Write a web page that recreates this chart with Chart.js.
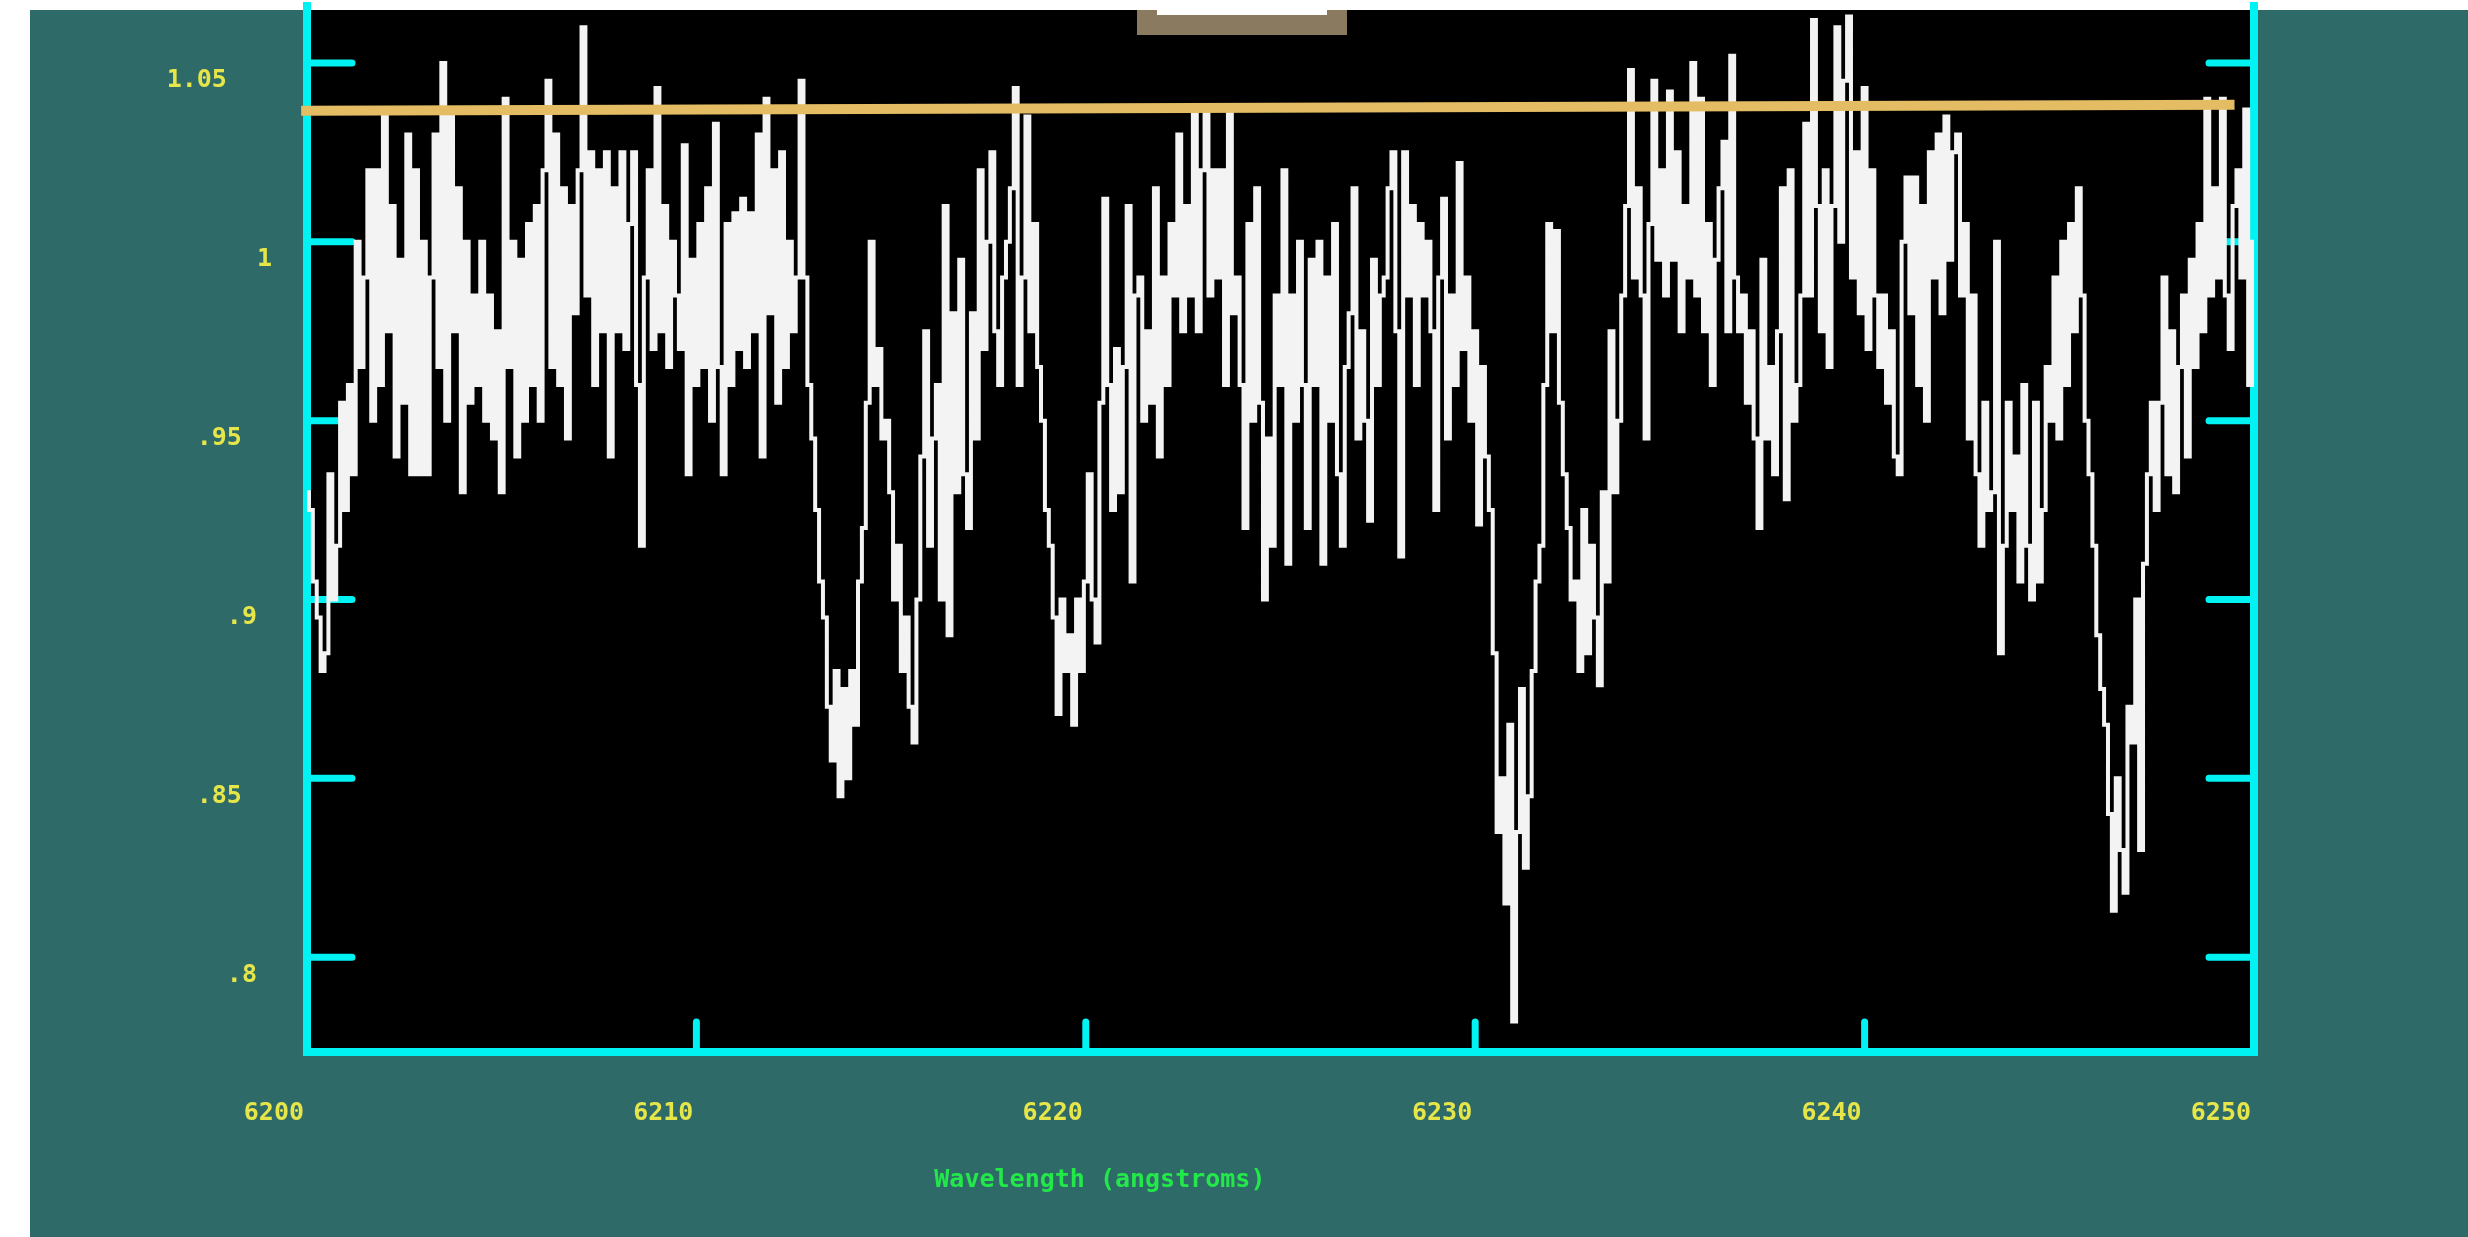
<!DOCTYPE html>
<html>
<head>
<meta charset="utf-8">
<title>Spectrum 6200-6250</title>
<script src="https://cdn.jsdelivr.net/npm/chart.js@4.4.1/dist/chart.umd.min.js"></script>
<style>
  html, body { margin: 0; padding: 0; background: #ffffff; overflow: hidden; }
  canvas { display: block; }
</style>
</head>
<body>
<canvas id="spec" width="2468" height="1237"></canvas>
<script>
// Wavelength grid of the spectrum (angstroms)
const waveStart = 6200.0;
const waveStep = 0.1;

// Normalised flux, one value per 0.1 A
const flux6200 = [
  0.930, 0.925, 0.905, 0.895, 0.880, 0.885, 0.935, 0.900, 0.915, 0.955,
  0.925, 0.960, 0.935, 1.000, 0.965, 0.990, 1.020, 0.950, 1.020, 0.960,
  1.035, 0.975, 1.010, 0.940, 0.995, 0.955, 1.030, 0.935, 1.020, 0.935,
  1.000, 0.935, 0.990, 1.030, 0.965, 1.050, 0.950, 1.035, 0.975, 1.015,
  0.930, 1.000, 0.955, 0.985, 0.960, 1.000, 0.950, 0.985, 0.945, 0.975,
  0.930, 1.040, 0.965, 1.000, 0.940, 0.995, 0.950, 1.005, 0.960, 1.010,
  0.950, 1.020, 1.045, 0.965, 1.030, 0.960, 1.015, 0.945, 1.010, 0.980,
  1.020, 1.060, 0.985, 1.025, 0.960, 1.020, 0.975, 1.025, 0.940, 1.015,
  0.975, 1.025, 0.970, 1.005, 1.025, 0.960, 0.915, 0.990, 1.020, 0.970,
  1.043, 0.975, 1.010, 0.965, 1.000, 0.985, 0.970, 1.027, 0.935, 0.995
];
const flux6210 = [
  0.960, 1.005, 0.965, 1.015, 0.950, 1.033, 0.965, 0.935, 1.005, 0.960,
  1.008, 0.970, 1.012, 0.965, 1.008, 0.975, 1.030, 0.940, 1.040, 0.980,
  1.020, 0.955, 1.025, 0.965, 1.000, 0.975, 0.990, 1.045, 0.990, 0.960,
  0.945, 0.925, 0.905, 0.895, 0.870, 0.855, 0.880, 0.845, 0.875, 0.850,
  0.880, 0.865, 0.905, 0.920, 0.955, 1.000, 0.960, 0.970, 0.945, 0.950,
  0.930, 0.900, 0.915, 0.880, 0.895, 0.870, 0.860, 0.900, 0.940, 0.975,
  0.915, 0.945, 0.960, 0.900, 1.010, 0.890, 0.980, 0.930, 0.995, 0.935,
  0.920, 0.980, 0.945, 1.020, 0.970, 1.000, 1.025, 0.975, 0.960, 0.990,
  1.000, 1.015, 1.043, 0.960, 0.990, 1.035, 0.975, 1.005, 0.965, 0.950,
  0.925, 0.915, 0.895, 0.868, 0.900, 0.880, 0.890, 0.865, 0.900, 0.880
];
const flux6220 = [
  0.905, 0.935, 0.900, 0.888, 0.955, 1.012, 0.960, 0.925, 0.970, 0.930,
  0.965, 1.010, 0.905, 0.985, 0.990, 0.950, 0.975, 0.955, 1.015, 0.940,
  0.990, 0.960, 1.005, 0.985, 1.030, 0.975, 1.010, 0.985, 1.038, 0.975,
  1.020, 1.036, 0.985, 1.020, 0.990, 1.020, 0.960, 1.038, 0.980, 0.990,
  0.960, 0.920, 1.005, 0.950, 1.015, 0.955, 0.900, 0.945, 0.915, 0.985,
  0.960, 1.020, 0.910, 0.985, 0.950, 1.000, 0.960, 0.920, 0.995, 0.960,
  1.000, 0.910, 0.990, 0.950, 1.005, 0.935, 0.915, 0.965, 0.980, 1.015,
  0.945, 0.975, 0.950, 0.922, 0.995, 0.960, 0.985, 0.990, 1.015, 1.025,
  0.975, 0.912, 1.025, 0.985, 1.010, 0.960, 1.005, 0.985, 1.000, 0.975,
  0.925, 0.990, 1.012, 0.945, 0.985, 0.960, 1.022, 0.970, 0.990, 0.950
];
const flux6230 = [
  0.975, 0.921, 0.965, 0.940, 0.925, 0.885, 0.835, 0.850, 0.815, 0.865,
  0.782, 0.835, 0.875, 0.825, 0.845, 0.880, 0.905, 0.915, 0.960, 1.005,
  0.975, 1.003, 0.955, 0.935, 0.920, 0.900, 0.905, 0.880, 0.925, 0.885,
  0.915, 0.895, 0.876, 0.930, 0.905, 0.975, 0.930, 0.950, 0.985, 1.010,
  1.048, 0.990, 1.015, 0.985, 0.945, 1.005, 1.045, 0.995, 1.020, 0.985,
  1.042, 0.995, 1.025, 0.975, 1.010, 0.990, 1.050, 0.985, 1.040, 0.975,
  1.005, 0.960, 0.995, 1.015, 1.028, 0.975, 1.052, 0.990, 0.975, 0.985,
  0.955, 0.975, 0.945, 0.920, 0.995, 0.945, 0.965, 0.935, 0.975, 1.015,
  0.928, 1.020, 0.950, 0.960, 0.985, 1.033, 0.985, 1.062, 1.010, 0.975,
  1.020, 0.965, 1.010, 1.060, 1.000, 1.045, 1.063, 0.990, 1.025, 0.980
];
const flux6240 = [
  1.043, 0.970, 1.020, 0.985, 0.965, 0.985, 0.955, 0.975, 0.940, 0.935,
  1.000, 1.018, 0.980, 1.018, 0.960, 1.010, 0.950, 1.025, 0.990, 1.030,
  0.980, 1.035, 0.995, 1.025, 1.030, 0.985, 1.005, 0.945, 0.985, 0.935,
  0.915, 0.955, 0.925, 0.930, 1.000, 0.885, 0.915, 0.955, 0.925, 0.940,
  0.905, 0.960, 0.915, 0.900, 0.955, 0.905, 0.925, 0.965, 0.950, 0.990,
  0.945, 1.000, 0.960, 1.005, 0.975, 1.015, 0.985, 0.950, 0.935, 0.915,
  0.890, 0.875, 0.865, 0.840, 0.813, 0.850, 0.830, 0.818, 0.870, 0.860,
  0.900, 0.830, 0.910, 0.935, 0.955, 0.925, 0.955, 0.990, 0.935, 0.975,
  0.930, 0.965, 0.985, 0.940, 0.995, 0.965, 1.005, 0.975, 1.040, 0.985,
  1.015, 0.990, 1.040, 0.985, 0.970, 1.010, 1.020, 0.990, 1.037, 0.960,
  1.000
];

// Fitted continuum level drawn across the plot
const levelWave = [6199.85, 6249.5];
const levelFlux = [1.0366, 1.0383];

// Axis ticks and their printed labels
const xTicks = [6200, 6210, 6220, 6230, 6240, 6250];
const xTickLabels = ['6200', '6210', '6220', '6230', '6240', '6250'];
const yTicks = [0.8, 0.85, 0.9, 0.95, 1.0, 1.05];
const yTickLabels = ['.8', '.85', '.9', '.95', '1', '1.05'];
const xTitle = 'Wavelength (angstroms)';

// Axis ranges
const waveMin = 6200, waveMax = 6250;
const fluxMin = 0.7735, fluxMax = 1.0648;

const fluxValues = [].concat(flux6200, flux6210, flux6220, flux6230, flux6240);
const spectrumPoints = fluxValues.map((f, i) => ({ x: +(waveStart + i * waveStep).toFixed(1), y: f }));
const levelPoints = levelWave.map((w, i) => ({ x: w, y: levelFlux[i] }));

const TEAL = '#2e6a68';
const CYAN = '#00f2f2';
const YELLOW = '#e6e64a';
const GREEN = '#22e84a';
const MONO = '"DejaVu Sans Mono", "Liberation Mono", monospace';

// Page backdrop, black plotting field, cyan frame with inward ticks
const framePlugin = {
  id: 'frame',
  beforeDraw(chart) {
    const { ctx, width, height, chartArea: a } = chart;
    ctx.save();
    ctx.fillStyle = '#ffffff';
    ctx.fillRect(0, 0, width, height);
    ctx.fillStyle = TEAL;
    ctx.fillRect(30, 10, width - 30, height - 10);
    ctx.fillStyle = '#000000';
    ctx.fillRect(a.left, a.top, a.right - a.left, a.bottom - a.top);
    ctx.restore();
  },
  beforeDatasetsDraw(chart) {
    const { ctx, chartArea: a, scales } = chart;
    ctx.save();
    ctx.strokeStyle = CYAN;
    ctx.lineCap = 'round';
    ctx.lineWidth = 7;
    scales.y.ticks.forEach(t => {
      const y = scales.y.getPixelForValue(t.value);
      ctx.beginPath();
      ctx.moveTo(a.left, y); ctx.lineTo(a.left + 45, y);
      ctx.moveTo(a.right - 45, y); ctx.lineTo(a.right, y);
      ctx.stroke();
    });
    scales.x.ticks.forEach(t => {
      if (t.value <= waveMin || t.value >= waveMax) return;
      const x = scales.x.getPixelForValue(t.value);
      ctx.beginPath();
      ctx.moveTo(x, a.bottom); ctx.lineTo(x, a.bottom - 30);
      ctx.stroke();
    });
    ctx.lineCap = 'square';
    ctx.lineJoin = 'miter';
    ctx.lineWidth = 8;
    ctx.beginPath();
    ctx.moveTo(a.left, a.top - 4);
    ctx.lineTo(a.left, a.bottom);
    ctx.lineTo(a.right, a.bottom);
    ctx.lineTo(a.right, a.top - 4);
    ctx.stroke();
    ctx.restore();
  },
  afterDraw(chart) {
    // header tab hanging from the top edge
    const { ctx } = chart;
    ctx.save();
    ctx.fillStyle = '#8a7a5f';
    ctx.fillRect(1137, 10, 210, 25);
    ctx.fillStyle = '#ffffff';
    ctx.fillRect(1157, 10, 170, 5);
    ctx.restore();
  }
};

new Chart(document.getElementById('spec'), {
  type: 'line',
  data: {
    datasets: [
      {
        label: 'continuum',
        data: levelPoints,
        borderColor: '#e3bc63',
        borderWidth: 10,
        pointRadius: 0,
        clip: false,
        order: 0
      },
      {
        label: 'flux',
        data: spectrumPoints,
        borderColor: '#f3f3f3',
        borderWidth: 4,
        pointRadius: 0,
        stepped: 'middle',
        order: 1
      }
    ]
  },
  options: {
    responsive: false,
    animation: false,
    events: [],
    layout: { padding: { left: 0, right: 214, top: 10, bottom: 0 } },
    plugins: { legend: { display: false }, tooltip: { enabled: false } },
    scales: {
      x: {
        type: 'linear',
        position: 'bottom',
        min: waveMin,
        max: waveMax,
        grid: { display: false },
        border: { display: false },
        afterBuildTicks: s => { s.ticks = xTicks.map(v => ({ value: v })); },
        afterFit: s => { s.height = 185; s.paddingLeft = 0; s.paddingRight = 0; },
        ticks: {
          autoSkip: false,
          maxRotation: 0,
          align: 'end',
          labelOffset: -3,
          padding: 38,
          color: YELLOW,
          font: { family: MONO, size: 25, weight: 'bold' },
          callback: v => xTickLabels[xTicks.indexOf(v)]
        },
        title: {
          display: true,
          text: xTitle + ' '.repeat(24),
          color: GREEN,
          font: { family: MONO, size: 25, weight: 'bold' },
          padding: { top: 0, bottom: 42 }
        }
      },
      y: {
        type: 'linear',
        position: 'left',
        min: fluxMin,
        max: fluxMax,
        grid: { display: false },
        border: { display: false },
        afterBuildTicks: s => { s.ticks = yTicks.map(v => ({ value: v })); },
        afterFit: s => { s.width = 307; s.paddingTop = 0; s.paddingBottom = 0; },
        ticks: {
          autoSkip: false,
          crossAlign: 'near',
          padding: 27,
          labelOffset: 18,
          color: YELLOW,
          font: { family: MONO, size: 25, weight: 'bold' },
          callback: v => {
            const s = yTickLabels[yTicks.indexOf(v)];
            return s + ' '.repeat(s.length - 1);
          }
        }
      }
    }
  },
  plugins: [framePlugin]
});
</script>
</body>
</html>
